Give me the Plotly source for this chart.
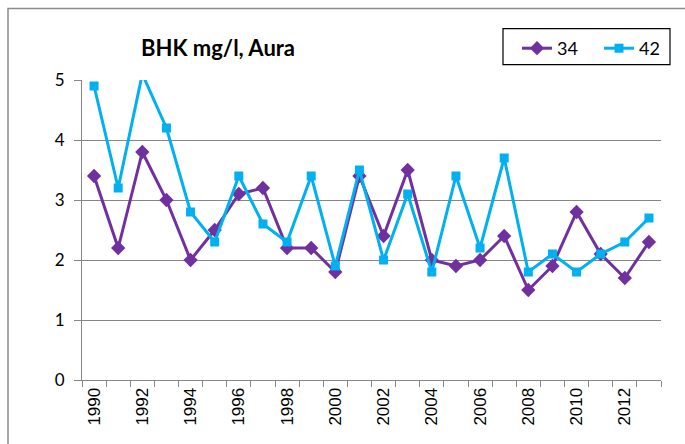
import plotly.graph_objects as go

years = list(range(1990, 2014))
s34 = [3.4, 2.2, 3.8, 3.0, 2.0, 2.5, 3.1, 3.2, 2.2, 2.2, 1.8, 3.4,
       2.4, 3.5, 2.0, 1.9, 2.0, 2.4, 1.5, 1.9, 2.8, 2.1, 1.7, 2.3]
s42 = [4.9, 3.2, 5.1, 4.2, 2.8, 2.3, 3.4, 2.6, 2.3, 3.4, 1.9, 3.5,
       2.0, 3.1, 1.8, 3.4, 2.2, 3.7, 1.8, 2.1, 1.8, 2.1, 2.3, 2.7]
label_years = list(range(1990, 2014, 2))
y_ticks = [0, 1, 2, 3, 4, 5]

W, H = 685, 444
L, R, T, B = 82, 24, 79.5, 64
pw, ph = W - L - R, H - T - B

fig = go.Figure()
fig.add_trace(go.Scatter(
    x=years, y=s34, name="34", mode="lines+markers",
    line=dict(color="#7030A0", width=3),
    marker=dict(symbol="diamond", size=11, color="#7030A0"),
))
fig.add_trace(go.Scatter(
    x=years, y=s42, name="42", mode="lines+markers",
    line=dict(color="#00B0F0", width=3),
    marker=dict(symbol="square", size=9, color="#00B0F0"),
))

# outer chart border
fig.add_shape(type="rect", xref="paper", yref="paper",
              x0=(8 - L) / pw, x1=(W + 10 - L) / pw,
              y0=-(H + 10 - (T + ph)) / ph, y1=(T + ph - 8) / ph,
              line=dict(color="#8c8c8c", width=1.5), layer="below")
# legend box
fig.add_shape(type="rect", xref="paper", yref="paper",
              x0=(503 - L) / pw, x1=(670 - L) / pw,
              y0=(T + ph - 64) / ph, y1=(T + ph - 28) / ph,
              line=dict(color="black", width=1.2), layer="above")

fig.update_layout(
    width=W, height=H,
    margin=dict(l=L, r=R, t=T, b=B),
    paper_bgcolor="white", plot_bgcolor="white",
    title=dict(text="<b>BHK mg/l, Aura</b>", x=218 / W, xanchor="center",
               y=1 - 48 / H, yanchor="middle",
               font=dict(family="Lato", size=22, color="black")),
    legend=dict(orientation="h", xref="container", yref="container",
                x=517 / W, y=1 - 30 / H,
                xanchor="left", yanchor="top",
                borderwidth=0, bgcolor="rgba(0,0,0,0)",
                font=dict(family="Lato", size=18, color="black"),
                entrywidth=37, entrywidthmode="pixels",
                tracegroupgap=0),
    showlegend=True,
)
fig.update_xaxes(
    range=[1989.5, 2013.5], tickmode="array", tickvals=label_years,
    ticktext=[str(y) for y in label_years], tickangle=-90,
    ticks="", showgrid=False, zeroline=False,
    showline=True, linecolor="#868686", linewidth=1,
    tickfont=dict(family="Liberation Sans", size=17, color="black"),
    minor=dict(ticks="outside", tick0=1989.5, dtick=1, ticklen=6,
               tickcolor="#868686", showgrid=False),
    automargin=False,
)
fig.update_yaxes(
    range=[0, 5], tickvals=y_ticks, ticks="outside", ticklen=7,
    tickcolor="#868686", showgrid=True, gridcolor="#868686", gridwidth=1,
    zeroline=False, showline=True, linecolor="#868686", linewidth=1,
    tickfont=dict(family="Lato", size=17, color="black"),
    ticklabelstandoff=6, automargin=False,
)

fig.write_html("out.html", config={"displayModeBar": False},
               post_script="document.body.style.margin='0';")
